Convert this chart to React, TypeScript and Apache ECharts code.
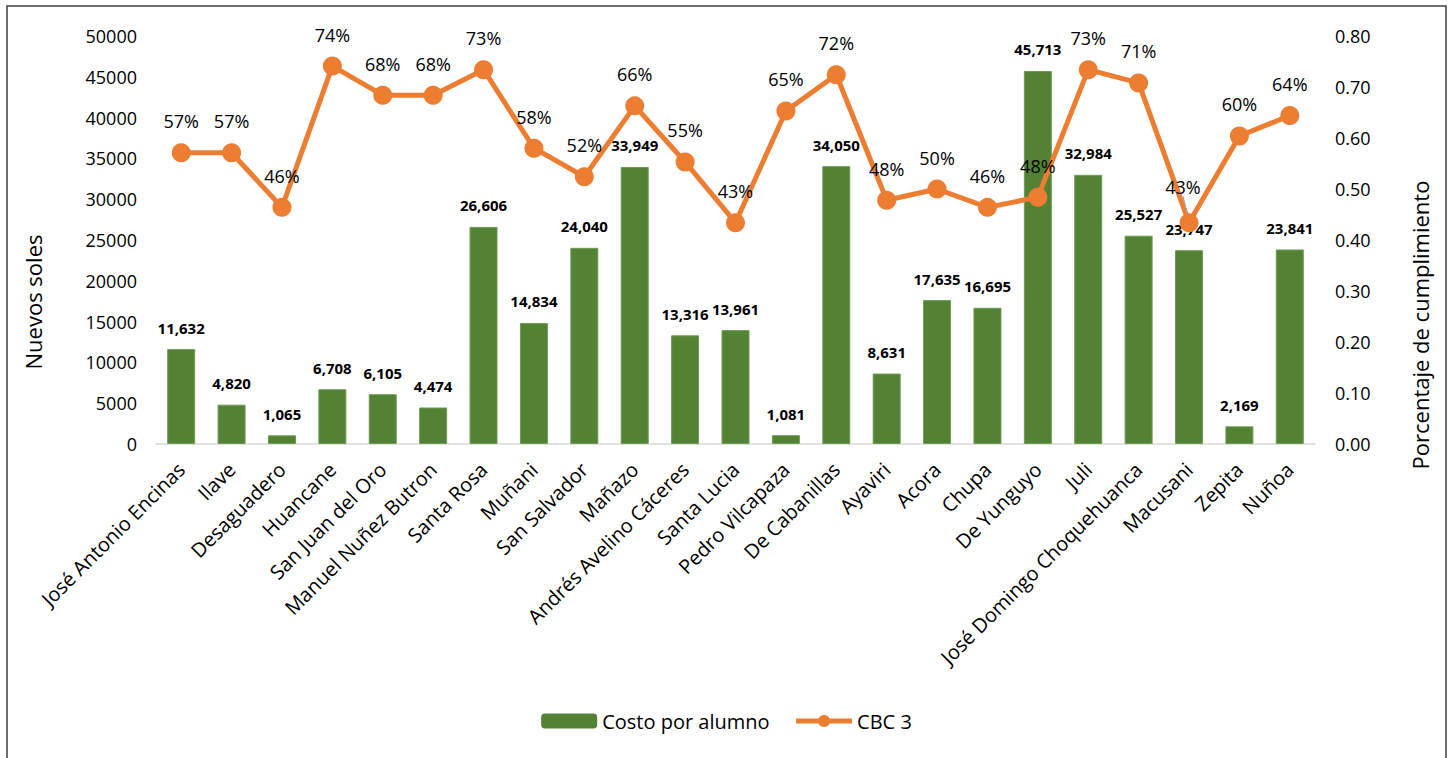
import React, { useEffect, useRef } from "react";
import * as echarts from "echarts";

const categories = [
  "José Antonio Encinas", "Ilave", "Desaguadero", "Huancane", "San Juan del Oro",
  "Manuel Nuñez Butron", "Santa Rosa", "Muñani", "San Salvador", "Mañazo",
  "Andrés Avelino Cáceres", "Santa Lucia", "Pedro Vilcapaza", "De Cabanillas", "Ayaviri",
  "Acora", "Chupa", "De Yunguyo", "Juli", "José Domingo Choquehuanca",
  "Macusani", "Zepita", "Nuñoa",
];

const costoPorAlumno = [
  11632, 4820, 1065, 6708, 6105, 4474, 26606, 14834, 24040, 33949, 13316, 13961,
  1081, 34050, 8631, 17635, 16695, 45713, 32984, 25527, 23747, 2169, 23841,
];

const cbc3 = [
  0.571, 0.571, 0.464, 0.741, 0.684, 0.684, 0.734, 0.58, 0.524, 0.663, 0.553, 0.434,
  0.653, 0.724, 0.478, 0.5, 0.464, 0.484, 0.734, 0.708, 0.434, 0.604, 0.644,
];

const leftTicks = { min: 0, max: 50000, interval: 5000 };
const rightTicks = { min: 0, max: 0.8, interval: 0.1 };

const FONT = "'Open Sans', 'Noto Sans', sans-serif";

export default function App() {
  const ref = useRef<HTMLDivElement>(null);

  useEffect(() => {
    document.body.style.margin = "0";
    if (!ref.current) return;
    const chart = echarts.init(ref.current, null, { renderer: "svg" });

    const option: any = {
      animation: false,
      backgroundColor: "#ffffff",
      textStyle: { fontFamily: FONT, color: "#000" },
      grid: { left: 156, right: 138, top: 36, bottom: 314, containLabel: false },
      legend: {
        bottom: 22,
        left: "center",
        itemWidth: 56,
        itemHeight: 15,
        itemGap: 24,
        textStyle: { fontSize: 20, color: "#000", fontFamily: FONT },
        data: [
          { name: "Costo por alumno", itemStyle: { borderWidth: 0 } },
          { name: "CBC 3", lineStyle: { width: 5 } },
        ],
      },
      xAxis: {
        type: "category",
        data: categories,
        axisLine: { show: true, lineStyle: { color: "#D9D9D9", width: 1.5 } },
        axisTick: { show: false },
        axisLabel: {
          interval: 0,
          rotate: 45,
          fontSize: 20,
          color: "#000",
          margin: 22,
          fontFamily: FONT,
        },
      },
      yAxis: [
        {
          type: "value",
          ...leftTicks,
          splitLine: { show: false },
          axisLine: { show: false },
          axisTick: { show: false },
          axisLabel: {
            fontSize: 18,
            color: "#000",
            margin: 19,
            fontFamily: FONT,
            formatter: (v: number) => String(v),
          },
        },
        {
          type: "value",
          ...rightTicks,
          splitLine: { show: false },
          axisLine: { show: false },
          axisTick: { show: false },
          axisLabel: {
            fontSize: 18,
            color: "#000",
            margin: 20,
            fontFamily: FONT,
            formatter: (v: number) => v.toFixed(2),
          },
        },
      ],
      series: [
        {
          name: "Costo por alumno",
          type: "bar",
          yAxisIndex: 0,
          barWidth: 28,
          data: costoPorAlumno,
          itemStyle: { color: "#548235", borderColor: "#6E9D52", borderWidth: 1 },
          label: {
            show: true,
            position: "top",
            distance: 14,
            fontSize: 15,
            fontWeight: "bold",
            color: "#000",
            fontFamily: FONT,
            formatter: (p: any) => Number(p.value).toLocaleString("en-US"),
          },
          z: 2,
        },
        {
          name: "CBC 3",
          type: "line",
          yAxisIndex: 1,
          data: cbc3.map((v, i) =>
            i === 20
              ? { value: v, labelLine: { show: true, lineStyle: { color: "#A6A6A6", width: 1.2 } } }
              : v
          ),
          symbol: "circle",
          symbolSize: 19,
          lineStyle: { color: "#ED7D31", width: 5 },
          itemStyle: { color: "#ED7D31" },
          label: {
            show: true,
            position: "top",
            distance: 13,
            fontSize: 18,
            color: "#000",
            fontFamily: FONT,
            formatter: (p: any) => Math.round(p.value * 100) + "%",
          },
          labelLayout: (p: any) => (p.dataIndex === 20 ? { dx: -6, dy: -4 } : {}),
          z: 3,
        },
      ],
      graphic: [
        {
          type: "rect",
          shape: { x: 7, y: 6, width: 1439, height: 800 },
          style: { fill: "none", stroke: "#404040", lineWidth: 1.5 },
          silent: true,
        },
        {
          type: "text",
          x: 33,
          y: 302,
          rotation: Math.PI / 2,
          style: {
            text: "Nuevos soles",
            font: `22px ${FONT}`,
            fill: "#000",
            align: "center",
            verticalAlign: "middle",
          },
        },
        {
          type: "text",
          x: 1420,
          y: 325,
          rotation: Math.PI / 2,
          style: {
            text: "Porcentaje de cumplimiento",
            font: `22px ${FONT}`,
            fill: "#000",
            align: "center",
            verticalAlign: "middle",
          },
        },
      ],
    };

    chart.setOption(option);
    return () => chart.dispose();
  }, []);

  return <div ref={ref} style={{ width: 1453, height: 758 }} />;
}
